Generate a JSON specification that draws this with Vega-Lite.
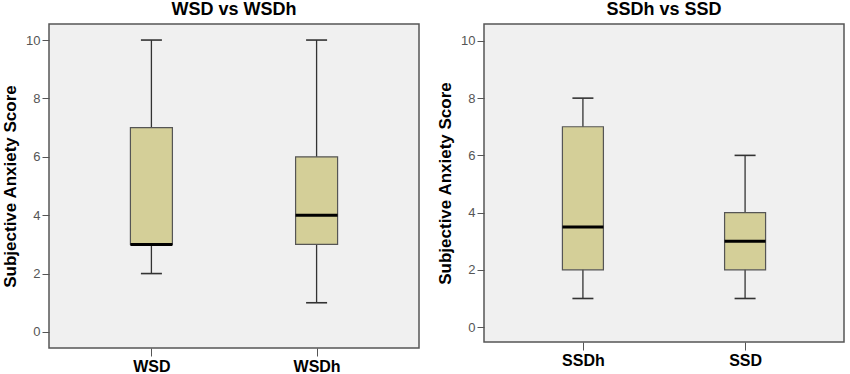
{
  "$schema": "https://vega.github.io/schema/vega-lite/v6.json",
  "background": "white",
  "padding": {"left": 0, "top": 0, "right": 0, "bottom": 0},
  "spacing": 15,
  "config": {
    "font": "Liberation Sans",
    "view": {"stroke": "#555555", "strokeWidth": 1.5, "fill": "#f0f0f0"},
    "title": {"fontSize": 18, "fontWeight": "bold", "color": "#000000", "offset": 5, "anchor": "middle"},
    "tick": {"opacity": 1},
    "axisY": {"grid": false, "domain": false, "tickColor": "#555555", "tickSize": 7, "labelColor": "#555555", "labelFontSize": 13, "labelPadding": 2, "titleFontSize": 17, "titleFontWeight": "bold", "titleColor": "#000000", "titlePadding": 6},
    "axisX": {"grid": false, "domain": false, "tickColor": "#555555", "tickSize": 8, "labelColor": "#000000", "labelFontSize": 16, "labelFontWeight": "bold", "labelAngle": 0, "labelPadding": 2}
  },
  "datasets": {
    "boxes": [
      {"panel": "L", "group": "WSD", "min": 2, "q1": 3, "median": 3, "q3": 7, "max": 10},
      {"panel": "L", "group": "WSDh", "min": 1, "q1": 3, "median": 4, "q3": 6, "max": 10},
      {"panel": "R", "group": "SSDh", "min": 1, "q1": 2, "median": 3.5, "q3": 7, "max": 8},
      {"panel": "R", "group": "SSD", "min": 1, "q1": 2, "median": 3, "q3": 4, "max": 6}
    ]
  },
  "hconcat": [
    {
      "title": {"text": "WSD vs WSDh"},
      "width": 370,
      "height": 324,
      "data": {"name": "boxes"},
      "transform": [{"filter": "datum.panel == 'L'"}],
      "encoding": {
        "x": {"field": "group", "type": "nominal", "sort": ["WSD", "WSDh"], "scale": {"type": "point", "padding": 0.62}, "axis": {"title": null}},
        "y": {"type": "quantitative", "scale": {"domain": [-0.55, 10.55], "nice": false, "zero": false}, "axis": {"title": "Subjective Anxiety Score", "values": [0, 2, 4, 6, 8, 10]}}
      },
      "layer": [
        {"mark": {"type": "rule", "color": "#333333", "strokeWidth": 1.3}, "encoding": {"y": {"field": "min", "type": "quantitative"}, "y2": {"field": "max"}}},
        {"mark": {"type": "bar", "size": 42, "fill": "#d4cf98", "stroke": "#555555", "strokeWidth": 1.2}, "encoding": {"y": {"field": "q1", "type": "quantitative"}, "y2": {"field": "q3"}}},
        {"mark": {"type": "tick", "size": 42, "thickness": 3, "color": "#000000", "opacity": 1}, "encoding": {"y": {"field": "median", "type": "quantitative"}}},
        {"mark": {"type": "tick", "size": 21, "thickness": 1.6, "color": "#333333", "opacity": 1}, "encoding": {"y": {"field": "min", "type": "quantitative"}}},
        {"mark": {"type": "tick", "size": 21, "thickness": 1.6, "color": "#333333", "opacity": 1}, "encoding": {"y": {"field": "max", "type": "quantitative"}}}
      ]
    },
    {
      "title": {"text": "SSDh vs SSD", "offset": 8, "dy": 3},
      "width": 360,
      "height": 318,
      "data": {"name": "boxes"},
      "transform": [{"filter": "datum.panel == 'R'"}],
      "encoding": {
        "x": {"field": "group", "type": "nominal", "sort": ["SSDh", "SSD"], "scale": {"type": "point", "padding": 0.61}, "axis": {"title": null}},
        "y": {"type": "quantitative", "scale": {"domain": [-0.52, 10.59], "nice": false, "zero": false}, "axis": {"title": "Subjective Anxiety Score", "values": [0, 2, 4, 6, 8, 10]}}
      },
      "layer": [
        {"mark": {"type": "rule", "color": "#333333", "strokeWidth": 1.3}, "encoding": {"y": {"field": "min", "type": "quantitative"}, "y2": {"field": "max"}}},
        {"mark": {"type": "bar", "size": 41, "fill": "#d4cf98", "stroke": "#555555", "strokeWidth": 1.2}, "encoding": {"y": {"field": "q1", "type": "quantitative"}, "y2": {"field": "q3"}}},
        {"mark": {"type": "tick", "size": 41, "thickness": 3, "color": "#000000", "opacity": 1}, "encoding": {"y": {"field": "median", "type": "quantitative"}}},
        {"mark": {"type": "tick", "size": 21, "thickness": 1.6, "color": "#333333", "opacity": 1}, "encoding": {"y": {"field": "min", "type": "quantitative"}}},
        {"mark": {"type": "tick", "size": 21, "thickness": 1.6, "color": "#333333", "opacity": 1}, "encoding": {"y": {"field": "max", "type": "quantitative"}}}
      ]
    }
  ]
}
